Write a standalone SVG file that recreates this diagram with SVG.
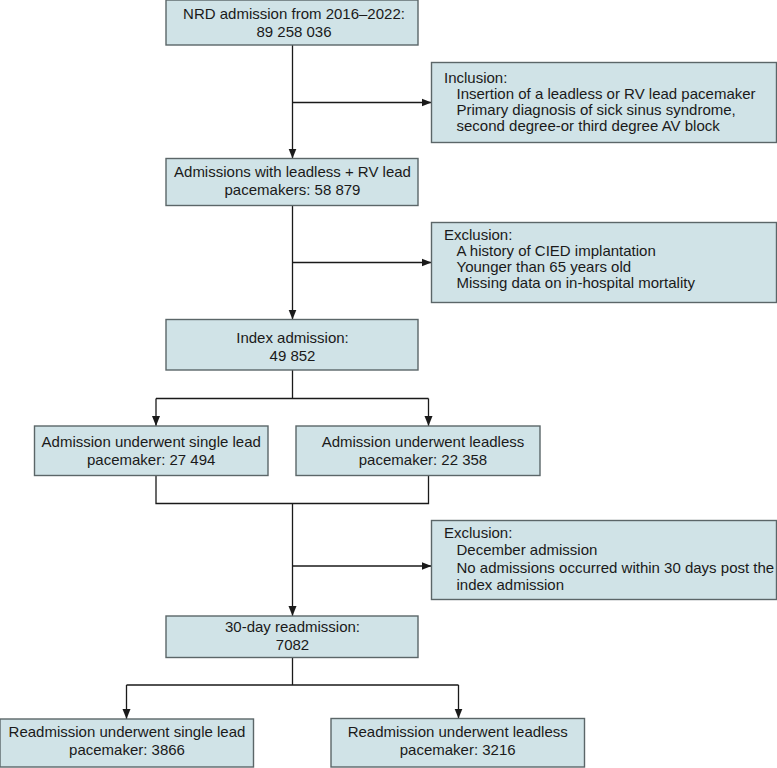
<svg xmlns="http://www.w3.org/2000/svg" width="777" height="768" viewBox="0 0 777 768">
  <style>
    .box{fill:#d0e3e7;stroke:#5b6668;stroke-width:1.4}
    .t{font-family:"Liberation Sans",Arial,Helvetica,sans-serif;font-size:15px;fill:#1a1a1a}
    .c{text-anchor:middle}
    .conn path{fill:none;stroke:#1a1a1a;stroke-width:1.3}
    .arr{marker-end:url(#ah)}
  </style>
  <defs>
    <marker id="ah" markerUnits="userSpaceOnUse" markerWidth="10" markerHeight="10" viewBox="0 0 10 10" refX="10" refY="5" orient="auto">
      <path d="M0,1 L10,5 L0,9 z" fill="#1a1a1a"/>
    </marker>
  </defs>
  <rect width="777" height="768" fill="#ffffff"/>

  <g id="connectors" class="conn">
    <path class="arr" d="M292.5,45 V158.5"/>
    <path class="arr" d="M292.5,102.5 H431.5"/>
    <path class="arr" d="M292.5,205.5 V319.5"/>
    <path class="arr" d="M292.5,262.5 H431.5"/>
    <path d="M292.5,370 V398.5 M156,398.5 H428.5"/>
    <path class="arr" d="M156,398.5 V426"/>
    <path class="arr" d="M428.5,398.5 V426"/>
    <path d="M156,475.5 V503.5 H428.5 V475.5"/>
    <path class="arr" d="M292.5,503.5 V616"/>
    <path class="arr" d="M292.5,566 H431.5"/>
    <path d="M292.5,657.5 V685 M126.5,685 H458.5"/>
    <path class="arr" d="M126.5,685 V719"/>
    <path class="arr" d="M458.5,685 V718.5"/>
  </g>

  <g id="n1">
    <rect class="box" x="166" y="0" width="252" height="45"/>
    <text class="t c" x="294" y="19">NRD admission from 2016–2022:</text>
    <text class="t c" x="294" y="36.5">89 258 036</text>
  </g>
  <g id="inclusion">
    <rect class="box" x="431.5" y="62.5" width="345" height="80"/>
    <text class="t" x="444" y="82.5">Inclusion:</text>
    <text class="t" x="456.5" y="98.5">Insertion of a leadless or RV lead pacemaker</text>
    <text class="t" x="456.5" y="114.5">Primary diagnosis of sick sinus syndrome,</text>
    <text class="t" x="456.5" y="130.5">second degree-or third degree AV block</text>
  </g>
  <g id="n2">
    <rect class="box" x="166" y="158.5" width="252" height="47"/>
    <text class="t c" x="292.5" y="176.7">Admissions with leadless + RV lead</text>
    <text class="t c" x="292.5" y="195">pacemakers: 58 879</text>
  </g>
  <g id="exclusion1">
    <rect class="box" x="431.5" y="222.5" width="345" height="80"/>
    <text class="t" x="444" y="240">Exclusion:</text>
    <text class="t" x="456.5" y="256">A history of CIED implantation</text>
    <text class="t" x="456.5" y="272">Younger than 65 years old</text>
    <text class="t" x="456.5" y="288">Missing data on in-hospital mortality</text>
  </g>
  <g id="n3">
    <rect class="box" x="166" y="319.5" width="252" height="50.5"/>
    <text class="t c" x="292.5" y="343.3">Index admission:</text>
    <text class="t c" x="292.5" y="361">49 852</text>
  </g>
  <g id="n4a">
    <rect class="box" x="34.5" y="426" width="233.5" height="49.5"/>
    <text class="t c" x="151.2" y="447.3">Admission underwent single lead</text>
    <text class="t c" x="151.2" y="465">pacemaker: 27 494</text>
  </g>
  <g id="n4b">
    <rect class="box" x="296" y="426" width="244" height="49.5"/>
    <text class="t c" x="423" y="447.3">Admission underwent leadless</text>
    <text class="t c" x="423" y="465">pacemaker: 22 358</text>
  </g>
  <g id="exclusion2">
    <rect class="box" x="431.5" y="520.5" width="345" height="79"/>
    <text class="t" x="444" y="537.5">Exclusion:</text>
    <text class="t" x="456.5" y="555">December admission</text>
    <text class="t" x="456.5" y="572.5">No admissions occurred within 30 days post the</text>
    <text class="t" x="456.5" y="590">index admission</text>
  </g>
  <g id="n5">
    <rect class="box" x="166" y="616" width="252" height="41.5"/>
    <text class="t c" x="292.5" y="632.3">30-day readmission:</text>
    <text class="t c" x="292.5" y="650">7082</text>
  </g>
  <g id="n6a">
    <rect class="box" x="0" y="719" width="253.5" height="48"/>
    <text class="t c" x="127" y="737.3">Readmission underwent single lead</text>
    <text class="t c" x="127" y="755">pacemaker: 3866</text>
  </g>
  <g id="n6b">
    <rect class="box" x="331" y="718.5" width="253.5" height="48.5"/>
    <text class="t c" x="457.7" y="737">Readmission underwent leadless</text>
    <text class="t c" x="457.7" y="755">pacemaker: 3216</text>
  </g>
</svg>
